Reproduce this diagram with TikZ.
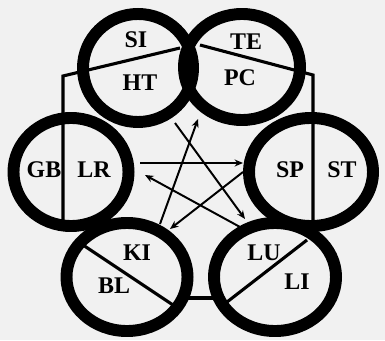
\documentclass[tikz,border=0pt]{standalone}
\usepackage{fontspec}
\setmainfont{Liberation Serif}
\usetikzlibrary{arrows.meta,shapes.geometric,positioning}
\definecolor{paper}{RGB}{241,241,241}

\tikzset{
  ring/.style={draw, ellipse, line width=8.5pt, inner sep=0pt},
  split/.style={line width=2.2pt},
  link/.style={line width=1.4pt, -{Stealth[length=6pt,width=5pt]}},
  lab/.style={font=\fontsize{17}{17}\selectfont\bfseries, inner sep=0pt}
}

\begin{document}
\begin{tikzpicture}[x=0.025cm, y=-0.025cm]
  % Background
  \fill[paper] (0,0) rectangle (385,340);
  \useasboundingbox (0,0) rectangle (385,340);

  % The six rings
  \node[ring, minimum width=2.75cm,  minimum height=2.7cm] (top-left)  at (138,68)  {};
  \node[ring, minimum width=2.9cm,   minimum height=2.65cm] (top-right) at (242,67) {};
  \node[ring, minimum width=2.875cm, minimum height=2.7cm] (mid-left)  at (71,172)  {};
  \node[ring, minimum width=3.1cm,   minimum height=2.7cm] (mid-right) at (311,172) {};
  \node[ring, minimum width=3.025cm, minimum height=2.7cm] (low-left)  at (127,277) {};
  \node[ring, minimum width=3.05cm,  minimum height=2.7cm] (low-right) at (275,277) {};

  % Split lines
  \draw[split] (180,48) -- (63,76) -- (63,225);
  \draw[split] (200,45) -- (313,75) -- (313,225);
  \draw[split] (83,245) -- (173,305);
  \draw[split] (307,240) -- (227,302);
  \draw[line width=3.5pt] (185,298) -- (216,298);

  % Labels
  \node[lab] (si) at (136,40)  {SI};
  \node[lab] (ht) at (140,83)  {HT};
  \node[lab] (te) at (246,42)  {TE};
  \node[lab] (pc) at (240,78)  {PC};
  \node[lab] (gb) at (44,170)  {GB};
  \node[lab] (lr) at (94,170)  {LR};
  \node[lab] (sp) at (290,170) {SP};
  \node[lab] (st) at (342,170) {ST};
  \node[lab] (ki) at (137,253) {KI};
  \node[lab] (bl) at (114,286) {BL};
  \node[lab] (lu) at (264,253) {LU};
  \node[lab] (li) at (297,282) {LI};

  % Arrow ends
  \coordinate (lr-out) at (140,163);
  \coordinate (sp-in)  at (243,163);
  \coordinate (ht-out) at (175,123);
  \coordinate (lu-in)  at (245,219);
  \coordinate (ki-out) at (160,224);
  \coordinate (pc-in)  at (198,119);
  \coordinate (lu-out) at (240,227);
  \coordinate (lr-in)  at (145,175);
  \coordinate (sp-out) at (243,172);
  \coordinate (ki-in)  at (170,229);

  % Arrows
  \draw[link] (lr-out) -- (sp-in);
  \draw[link] (ht-out) -- (lu-in);
  \draw[link] (ki-out) -- (pc-in);
  \draw[link] (lu-out) -- (lr-in);
  \draw[link] (sp-out) -- (ki-in);
\end{tikzpicture}
\end{document}
